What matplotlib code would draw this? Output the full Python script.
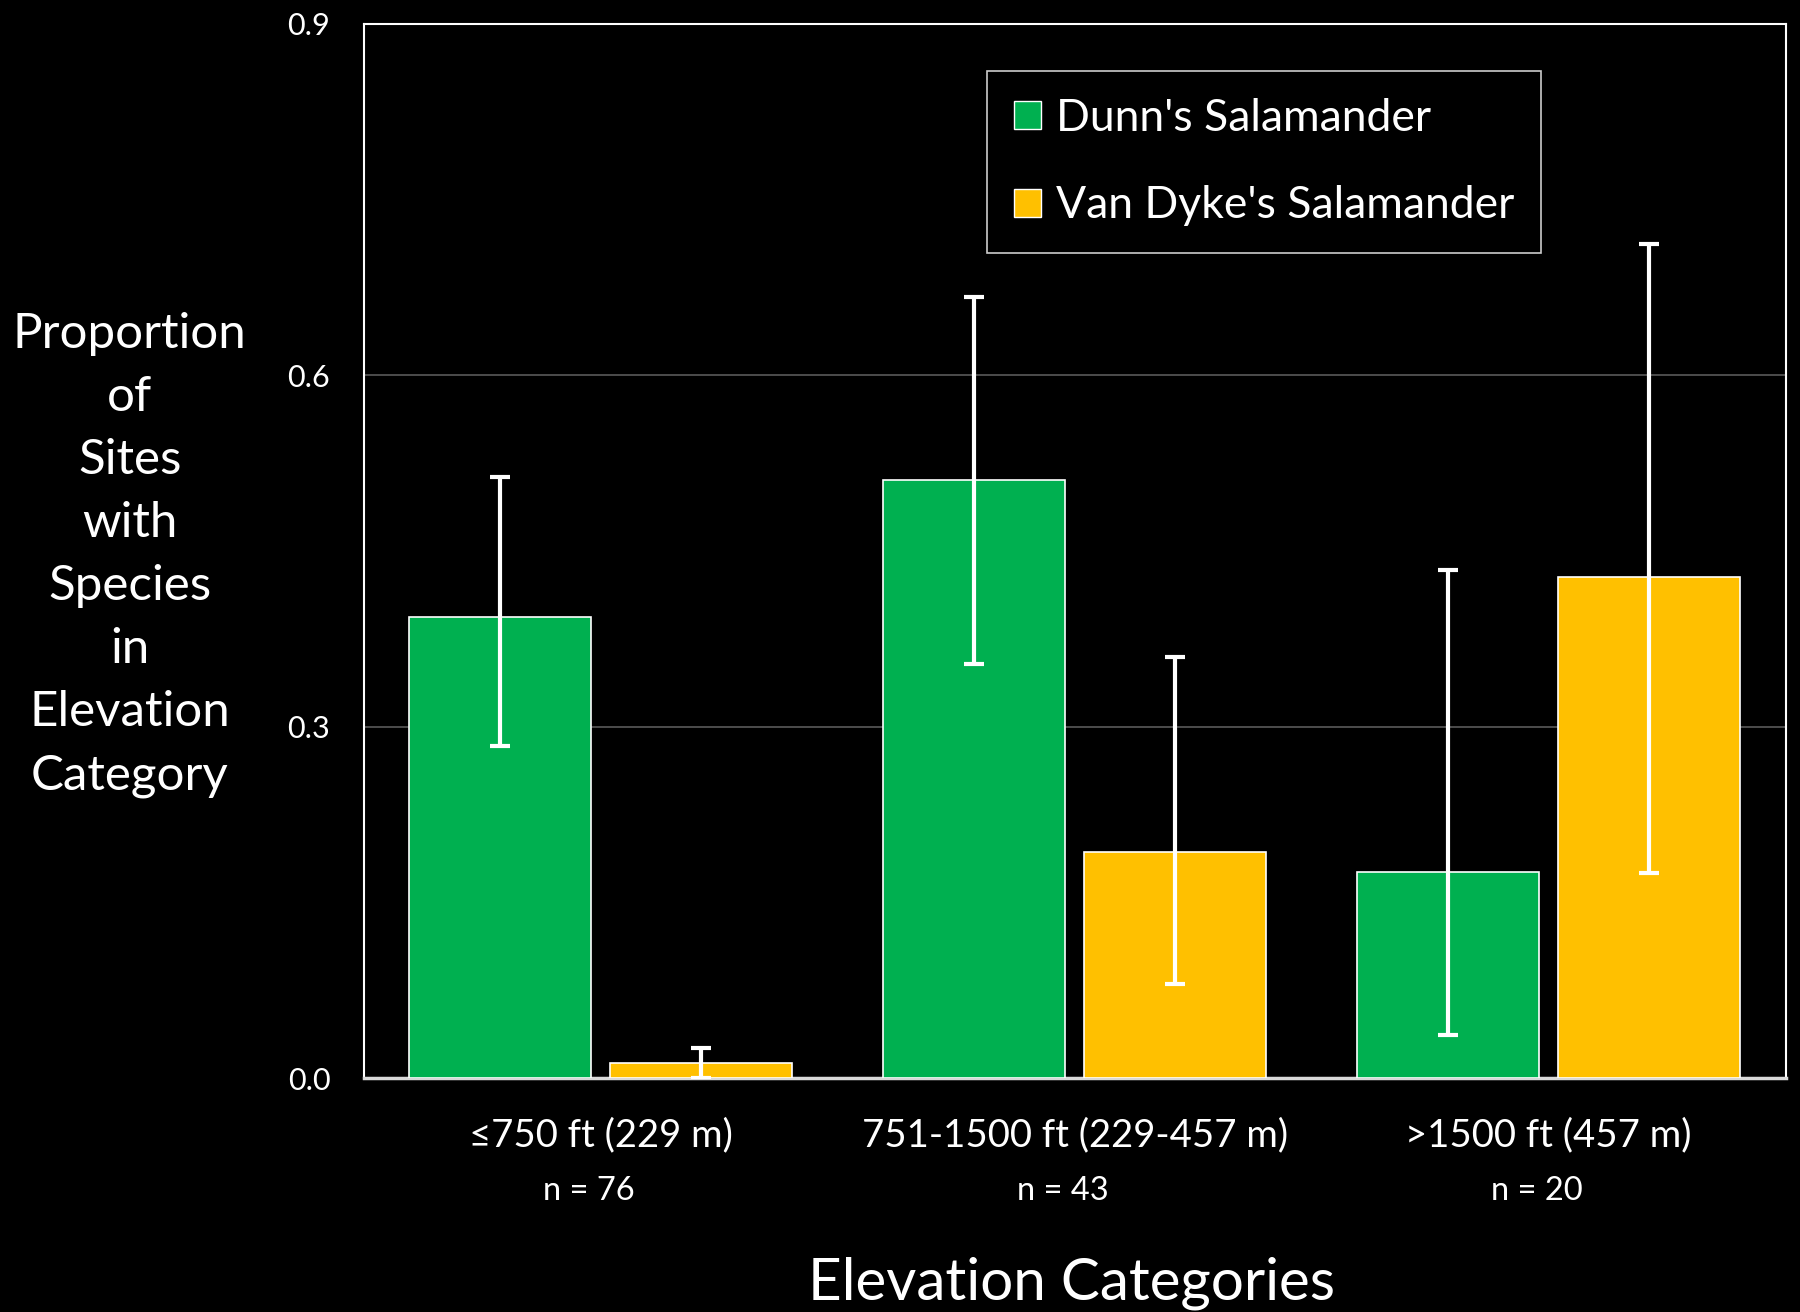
import numpy as np
import matplotlib
matplotlib.use("Agg")
import matplotlib.pyplot as plt
from matplotlib.patches import Patch

plt.rcParams['font.family'] = ['Lato', 'DejaVu Sans']

# elevation categories and site counts
categories = ["\u2264750 ft (229 m)", "751-1500 ft (229-457 m)", ">1500 ft (457 m)"]
n_sites = [76, 43, 20]

# proportion of sites with each species, plus upper/lower error limits
dunn = [0.394, 0.511, 0.176]
dunn_hi = [0.513, 0.667, 0.434]
dunn_lo = [0.284, 0.354, 0.037]

vandyke = [0.013, 0.193, 0.428]
vandyke_hi = [0.026, 0.360, 0.712]
vandyke_lo = [0.0, 0.081, 0.175]

green = "#00b050"
gold = "#ffc000"

fig = plt.figure(figsize=(18, 13.12), dpi=100, facecolor="black")
ax = fig.add_axes([0.202, 0.178, 0.790, 0.804])
ax.set_facecolor("black")

x = np.arange(len(categories))
w = 0.384
off = 0.2115

def errs(v, lo, hi):
    v, lo, hi = np.array(v), np.array(lo), np.array(hi)
    return np.vstack([v - lo, hi - v])

ekw = dict(ecolor="white", elinewidth=3, capsize=7, capthick=3)
ax.bar(x - off, dunn, w, color=green, edgecolor="white", linewidth=1.2,
       yerr=errs(dunn, dunn_lo, dunn_hi), error_kw=ekw, zorder=3)
ax.bar(x + off, vandyke, w, color=gold, edgecolor="white", linewidth=1.2,
       yerr=errs(vandyke, vandyke_lo, vandyke_hi), error_kw=ekw, zorder=3)

ax.set_xlim(-0.5, 2.5)
ax.set_ylim(0, 0.9)
ax.set_yticks([0.0, 0.3, 0.6, 0.9])
ax.set_yticklabels(["0.0", "0.3", "0.6", "0.9"])
ax.yaxis.grid(True, color="#595959", linewidth=1.2, zorder=0)
ax.set_axisbelow(True)
ax.tick_params(axis="y", length=0, pad=24, labelsize=22, labelcolor="white")
ax.tick_params(axis="x", length=0, pad=28, labelsize=27.5, labelcolor="white")
ax.set_xticks(x)
ax.set_xticklabels(categories)

for s in ax.spines.values():
    s.set_color("white")
    s.set_linewidth(1.5)
ax.spines["bottom"].set_color("#d9d9d9")
ax.spines["bottom"].set_linewidth(2.5)

# sample size under each category
for xi, n in zip(x, n_sites):
    ax.text(xi - 0.025, -0.107, f"n = {n}", ha="center", va="center",
            fontsize=23.5, color="white", transform=ax.get_xaxis_transform())

fig.text(0.595, 0.022, "Elevation Categories", ha="center", va="center",
         fontsize=42, color="white")
fig.text(0.072, 0.577, "Proportion\nof\nSites\nwith\nSpecies\nin\nElevation\nCategory",
         ha="center", va="center", fontsize=35.5, color="white", linespacing=1.53)

handles = [Patch(facecolor=green, edgecolor="white", label="Dunn's Salamander"),
           Patch(facecolor=gold, edgecolor="white", label="Van Dyke's Salamander")]
leg = ax.legend(handles=handles, loc="upper left", bbox_to_anchor=(0.4386, 0.955),
                borderaxespad=0, fontsize=32, frameon=True, fancybox=False,
                labelcolor="white", handlelength=0.6, handleheight=0.6,
                handletextpad=0.35, labelspacing=1.05, borderpad=0.6)
leg.get_frame().set_facecolor("black")
leg.get_frame().set_edgecolor("white")
leg.get_frame().set_linewidth(1.2)

fig.savefig("out.png", dpi=100, facecolor="black")
